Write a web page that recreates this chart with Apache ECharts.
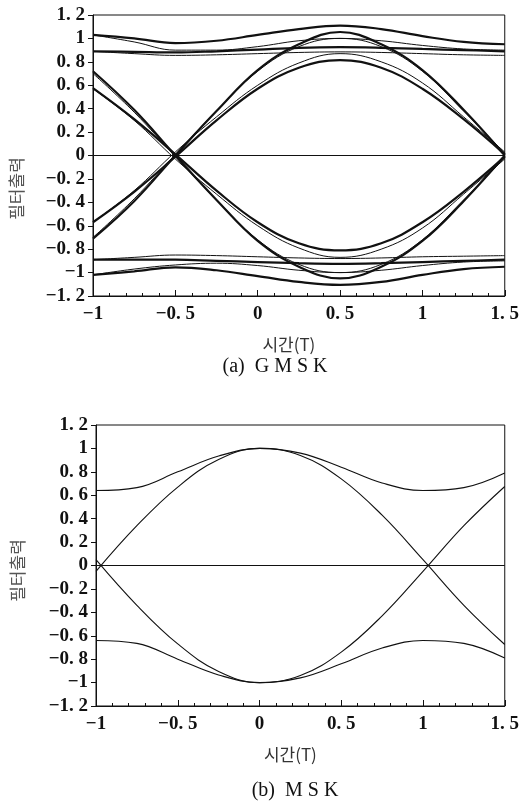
<!DOCTYPE html>
<html>
<head>
<meta charset="utf-8">
<script src="https://cdn.jsdelivr.net/npm/echarts@6/dist/echarts.min.js"></script>
<style>
html,body{margin:0;padding:0;background:#fff;}
#chart{width:522px;height:805px;}
</style>
</head>
<body>
<div id="chart"></div>
<script>
// ---- data ----
const timeGrid = [-1, -0.75, -0.5, -0.25, 0, 0.25, 0.5, 0.75, 1, 1.25, 1.5];

const xTickValues = [-1, -0.5, 0, 0.5, 1, 1.5];
const xTickLabels = ['−1', '−0. 5', '0', '0. 5', '1', '1. 5'];
const yTickValues = [-1.2, -1, -0.8, -0.6, -0.4, -0.2, 0, 0.2, 0.4, 0.6, 0.8, 1, 1.2];
const yTickLabels = ['−1. 2', '−1', '−0. 8', '−0. 6', '−0. 4', '−0. 2', '0', '0. 2', '0. 4', '0. 6', '0. 8', '1', '1. 2'];

// (a) GMSK traces (thick = heavy traces, thin = light traces)
const gmskBandHighUp   = [1.03, 1.00, 0.96, 0.98, 1.03, 1.08, 1.11, 1.08, 1.02, 0.97, 0.95];
const gmskBandMidUp    = [0.89, 0.885, 0.88, 0.89, 0.905, 0.92, 0.925, 0.92, 0.91, 0.90, 0.89];
const gmskBandLowUp    = [0.89, 0.87, 0.855, 0.86, 0.87, 0.88, 0.885, 0.88, 0.87, 0.86, 0.855];
const gmskHighToCross  = [1.03, 0.97, 0.90, 0.90, 0.93, 0.98, 1.00, 0.93, 0.72, 0.38, 0.02];
const gmskCrossToHigh  = [-0.70, -0.37, 0.01, 0.38, 0.72, 0.93, 1.00, 0.98, 0.94, 0.91, 0.90];
const gmskOuterEyeUp   = [-0.71, -0.39, 0.0, 0.38, 0.73, 0.95, 1.055, 0.95, 0.73, 0.39, 0.0];
const gmskInnerEyeUp   = [-0.57, -0.31, -0.01, 0.30, 0.57, 0.75, 0.815, 0.75, 0.57, 0.31, 0.01];
const gmskInnerEyeUp2  = [-0.57, -0.30, 0.03, 0.33, 0.60, 0.79, 0.87, 0.80, 0.62, 0.33, 0.03];

const gmskBandHighDn   = [-1.02, -0.99, -0.955, -0.98, -1.03, -1.08, -1.105, -1.08, -1.02, -0.97, -0.95];
const gmskBandMidDn    = [-0.89, -0.89, -0.89, -0.90, -0.91, -0.92, -0.925, -0.92, -0.91, -0.90, -0.89];
const gmskBandLowDn    = [-0.89, -0.87, -0.85, -0.855, -0.865, -0.875, -0.88, -0.875, -0.865, -0.86, -0.855];
const gmskLowToCross   = [-1.02, -0.97, -0.935, -0.92, -0.94, -0.98, -1.00, -0.93, -0.72, -0.38, -0.02];
const gmskCrossToLow   = [0.70, 0.37, -0.01, -0.38, -0.72, -0.93, -1.00, -0.98, -0.94, -0.91, -0.90];
const gmskOuterEyeDn   = [0.72, 0.39, 0.0, -0.38, -0.73, -0.95, -1.05, -0.95, -0.73, -0.39, 0.0];
const gmskInnerEyeDn   = [0.575, 0.31, 0.01, -0.30, -0.57, -0.75, -0.81, -0.75, -0.57, -0.31, -0.01];
const gmskInnerEyeDn2  = [0.57, 0.30, -0.03, -0.33, -0.60, -0.79, -0.87, -0.80, -0.62, -0.33, -0.03];

// (b) MSK traces
const mskUpper   = [0.64, 0.665, 0.80, 0.935, 1.0, 0.96, 0.84, 0.705, 0.64, 0.665, 0.79];
const mskFalling = [-0.05, 0.34, 0.67, 0.905, 1.0, 0.94, 0.74, 0.43, 0.05, -0.34, -0.675];
const mskRising  = [0.05, -0.34, -0.67, -0.905, -1.0, -0.94, -0.74, -0.43, -0.05, 0.34, 0.675];
const mskLower   = [-0.64, -0.665, -0.80, -0.935, -1.0, -0.96, -0.84, -0.705, -0.64, -0.665, -0.79];

// ---- chart ----
const pair = arr => timeGrid.map((t, i) => [t, arr[i]]);
const serif = 'Liberation Serif';
const ink = '#111';

function xAxisCfg(gi) {
  return {
    type: 'value', gridIndex: gi, min: -1, max: 1.5, interval: 0.5,
    name: '시간(T)', nameLocation: 'middle', nameGap: 40,
    nameTextStyle: { fontFamily: 'Noto Sans CJK KR', fontSize: 17, color: '#333', padding: [0, 20, 0, 0] },
    axisLine: { show: true, onZero: false, lineStyle: { color: ink, width: 1 } },
    axisTick: { show: true, inside: true, length: 6, lineStyle: { color: ink } },
    minorTick: { show: true, splitNumber: 5, length: 3, lineStyle: { color: ink } },
    splitLine: { show: false },
    axisLabel: {
      margin: 9, fontFamily: serif, fontSize: 19, fontWeight: 'bold', color: ink,
      formatter: v => { const i = xTickValues.findIndex(t => Math.abs(t - v) < 1e-6); return i >= 0 ? xTickLabels[i] : ''; }
    }
  };
}
function yAxisCfg(gi, gap, pad) {
  return {
    type: 'value', gridIndex: gi, min: -1.2, max: 1.2, interval: 0.2,
    name: '필터출력', nameLocation: 'middle', nameGap: gap, nameRotate: 90,
    nameTextStyle: { fontFamily: 'Noto Sans CJK KR', fontSize: 17, color: '#555', padding: pad },
    axisLine: { show: true, onZero: false, lineStyle: { color: ink, width: 1 } },
    axisTick: { show: true, inside: false, length: 5, lineStyle: { color: ink } },
    splitLine: { show: false },
    axisLabel: {
      margin: 8, fontFamily: serif, fontSize: 19, fontWeight: 'bold', color: ink,
      formatter: v => { const i = yTickValues.findIndex(t => Math.abs(t - v) < 1e-6); return i >= 0 ? yTickLabels[i] : ''; }
    }
  };
}
function trace(name, arr, gi, width) {
  return {
    name, type: 'line', xAxisIndex: gi, yAxisIndex: gi, data: pair(arr),
    smooth: 0.4, showSymbol: false, symbol: 'none', silent: true,
    lineStyle: { color: ink, width: width }, animation: false
  };
}
function zeroLine(gi) {
  return {
    name: 'zero' + gi, type: 'line', xAxisIndex: gi, yAxisIndex: gi, data: [],
    markLine: { silent: true, symbol: 'none', label: { show: false },
      lineStyle: { color: ink, width: 1, type: 'solid' }, data: [{ yAxis: 0 }] },
    animation: false
  };
}

const chart = echarts.init(document.getElementById('chart'), null, { renderer: 'canvas' });
chart.setOption({
  backgroundColor: '#fff',
  animation: false,
  title: [
    { text: '(a)  G M S K', left: 270, top: 352, textAlign: 'center',
      textStyle: { fontFamily: serif, fontSize: 20, fontWeight: 'normal', color: ink } },
    { text: '(b)  M S K', left: 290, top: 776, textAlign: 'center',
      textStyle: { fontFamily: serif, fontSize: 20, fontWeight: 'normal', color: ink } }
  ],
  grid: [
    { left: 91, top: 15, width: 418, height: 281, show: true, borderColor: ink, borderWidth: 1 },
    { left: 96, top: 425, width: 420, height: 281, show: true, borderColor: ink, borderWidth: 1 }
  ],
  xAxis: [xAxisCfg(0), xAxisCfg(1)],
  yAxis: [yAxisCfg(0, 68, [0, 66, 0, 0]), yAxisCfg(1, 70, [0, 10, 0, 0])],
  series: [
    zeroLine(0), zeroLine(1),
    trace('gmskBandHighUp', gmskBandHighUp, 0, 2.2),
    trace('gmskBandMidUp', gmskBandMidUp, 0, 2.2),
    trace('gmskBandLowUp', gmskBandLowUp, 0, 1),
    trace('gmskHighToCross', gmskHighToCross, 0, 1),
    trace('gmskCrossToHigh', gmskCrossToHigh, 0, 1),
    trace('gmskOuterEyeUp', gmskOuterEyeUp, 0, 2.2),
    trace('gmskInnerEyeUp', gmskInnerEyeUp, 0, 2.2),
    trace('gmskInnerEyeUp2', gmskInnerEyeUp2, 0, 1),
    trace('gmskBandHighDn', gmskBandHighDn, 0, 2.2),
    trace('gmskBandMidDn', gmskBandMidDn, 0, 2.2),
    trace('gmskBandLowDn', gmskBandLowDn, 0, 1),
    trace('gmskLowToCross', gmskLowToCross, 0, 1),
    trace('gmskCrossToLow', gmskCrossToLow, 0, 1),
    trace('gmskOuterEyeDn', gmskOuterEyeDn, 0, 2.2),
    trace('gmskInnerEyeDn', gmskInnerEyeDn, 0, 2.2),
    trace('gmskInnerEyeDn2', gmskInnerEyeDn2, 0, 1),
    trace('mskUpper', mskUpper, 1, 1.1),
    trace('mskFalling', mskFalling, 1, 1.1),
    trace('mskRising', mskRising, 1, 1.1),
    trace('mskLower', mskLower, 1, 1.1)
  ]
});
</script>
</body>
</html>
